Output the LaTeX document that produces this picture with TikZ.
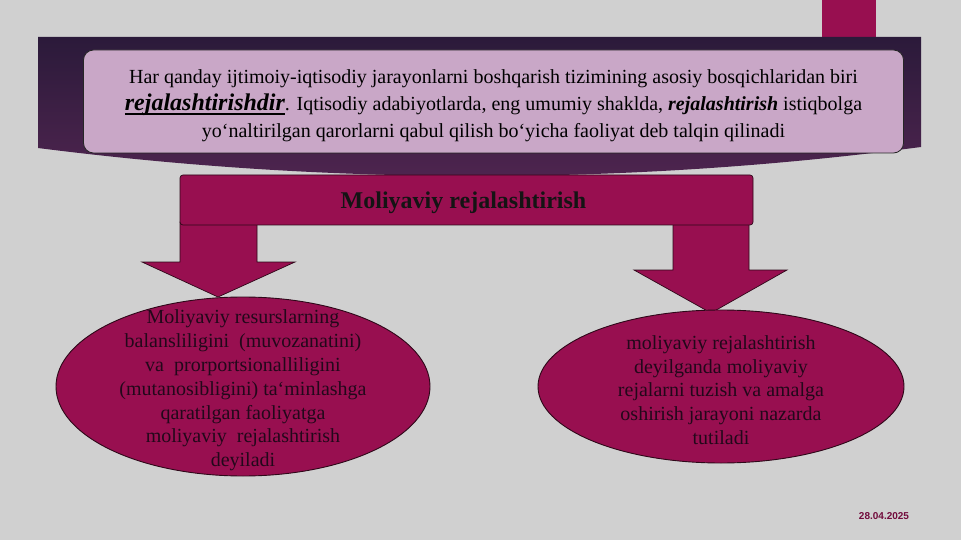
\documentclass[tikz,border=0pt]{standalone}
\usepackage{fontspec}
\setmainfont{Liberation Serif}
\newfontfamily\datefont{Liberation Sans}
\usetikzlibrary{shapes.geometric}
\definecolor{bg}{HTML}{D0D0D0}
\definecolor{berry}{HTML}{980F50}
\definecolor{bandtop}{HTML}{2B1A3A}
\definecolor{bandlow}{HTML}{502550}
\definecolor{lilac}{HTML}{C9A7C7}
\definecolor{inktxt}{HTML}{22081A}
\definecolor{edge}{HTML}{2E0819}
\newcommand\thickul[1]{\setbox0\hbox{#1}\rlap{\vrule width \wd0 height -2.2pt depth 4pt}\box0}
\tikzset{
  topbox/.style={draw=black!85, line width=0.8pt, fill=lilac, rounded corners=10pt,
    minimum width=820pt, minimum height=103pt, inner sep=0pt},
  toptext/.style={align=center, inner sep=0pt, text=black,
    font=\fontsize{20}{27}\selectfont},
  headbox/.style={draw=edge, line width=0.7pt, fill=berry, rounded corners=3pt,
    minimum width=573pt, minimum height=50pt, inner sep=0pt},
  headtext/.style={inner sep=0pt, font=\bfseries\fontsize{24}{28}\selectfont, text=black!92},
  blockarrow/.style={draw=edge, line width=0.7pt, fill=berry},
  oval/.style={ellipse, draw=edge, line width=0.9pt, fill=berry, inner sep=0pt},
  ovaltext/.style={align=center, inner sep=0pt, text=inktxt,
    font=\fontsize{20}{23.8}\selectfont},
}
\begin{document}
\begin{tikzpicture}[x=1pt,y=-1pt]
\fill[bg] (0,0) rectangle (961,540);
\useasboundingbox (0,0) rectangle (961,540);
% top-right bar
\fill[berry] (822,0) rectangle (876,48);
% dark band with curved lower edge
\shade[top color=bandtop, bottom color=bandlow]
  (38,37) -- (921,37) -- (921,147) .. controls (627,185.5) and (333,185.5) .. (38,148) -- cycle;
% intro box
\node[topbox] (intro) at (493.5,101.5) {};
\node[toptext] (introtext) at (493.5,106) {Har qanday ijtimoiy-iqtisodiy jarayonlarni boshqarish tizimining asosiy bosqichlaridan biri\\
{\fontsize{24}{27}\selectfont\bfseries\itshape\thickul{rejalashtirishdir}}. Iqtisodiy adabiyotlarda, eng umumiy shaklda, \textbf{\textit{rejalashtirish}} istiqbolga\\
yo‘naltirilgan qarorlarni qabul qilish bo‘yicha faoliyat deb talqin qilinadi};
% block arrows
\draw[blockarrow] (180,222) -- (257,222) -- (257,262) -- (295,262) -- (218,297) -- (142,262) -- (180,262) -- cycle;
\draw[blockarrow] (673,222) -- (749,222) -- (749,270) -- (787,270) -- (711,313) -- (634,270) -- (673,270) -- cycle;
% heading box
\node[headbox] (head) at (466.5,200) {};
\node[headtext] (headlabel) at (463.5,203) {Moliyaviy rejalashtirish};
% ellipses
\node[oval, minimum width=374pt, minimum height=179pt] (leftoval) at (243,386.5) {};
\node[ovaltext] (lefttext) at ([yshift=-4pt]leftoval.center) {Moliyaviy resurslarning\\
balansliligini\ \ (muvozanatini)\\
va\ \ prorportsionalliligini\\
(mutanosibligini) ta‘minlashga\\
qaratilgan faoliyatga\\
moliyaviy\ \ rejalashtirish\\
deyiladi};
\node[oval, minimum width=366pt, minimum height=153pt] (rightoval) at (721,386.5) {};
\node[ovaltext] (righttext) at ([yshift=-3.5pt]rightoval.center) {moliyaviy rejalashtirish\\
deyilganda moliyaviy\\
rejalarni tuzish va amalga\\
oshirish jarayoni nazarda\\
tutiladi};
% date
\node[font=\datefont\bfseries\fontsize{10}{12}\selectfont, text=berry!75!black] (date) at (884,516) {28.04.2025};
\end{tikzpicture}
\end{document}
